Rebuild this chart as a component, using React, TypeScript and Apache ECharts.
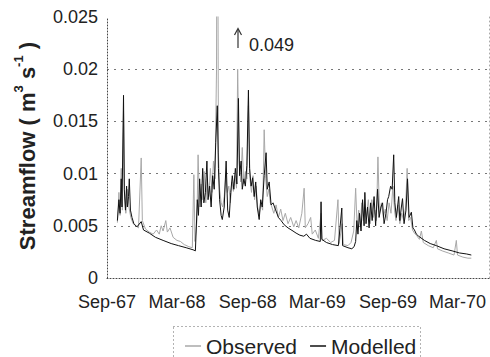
import React, { useEffect, useRef } from "react";
import * as echarts from "echarts";

// x-axis tick positions and labels
const tickDates = ["1967-09-01", "1968-03-01", "1968-09-01", "1969-03-01", "1969-09-01", "1970-03-01"];
const tickLabels = ["Sep-67", "Mar-68", "Sep-68", "Mar-69", "Sep-69", "Mar-70"];
const axisStart = "1967-09-01";
const axisEnd = "1970-05-22";

// y-axis
const yMin = 0;
const yMax = 0.025;
const yStep = 0.005;

// Observed streamflow (m3/s)
const observed: [string, number][] = [
  ["1967-09-28", 0.0053], ["1967-10-02", 0.0082], ["1967-10-05", 0.006], ["1967-10-08", 0.0105],
  ["1967-10-11", 0.0065], ["1967-10-14", 0.016], ["1967-10-17", 0.0078], ["1967-10-20", 0.0062],
  ["1967-10-24", 0.0085], ["1967-10-28", 0.0068], ["1967-11-02", 0.0058], ["1967-11-08", 0.0052],
  ["1967-11-15", 0.005], ["1967-11-22", 0.0048], ["1967-11-29", 0.0115], ["1967-12-02", 0.0055],
  ["1967-12-10", 0.0047], ["1967-12-20", 0.0044], ["1967-12-30", 0.0042], ["1968-01-08", 0.0046],
  ["1968-01-15", 0.0042], ["1968-01-20", 0.005], ["1968-01-25", 0.0045], ["1968-02-01", 0.0055],
  ["1968-02-05", 0.0044], ["1968-02-12", 0.0048], ["1968-02-20", 0.0039], ["1968-03-01", 0.0036],
  ["1968-03-10", 0.0035], ["1968-03-20", 0.0032], ["1968-04-01", 0.003], ["1968-04-10", 0.0029],
  ["1968-04-14", 0.0099], ["1968-04-17", 0.0035], ["1968-04-22", 0.0055], ["1968-04-25", 0.0118],
  ["1968-04-29", 0.0068], ["1968-05-03", 0.009], ["1968-05-07", 0.0075], ["1968-05-11", 0.0102],
  ["1968-05-15", 0.0072], ["1968-05-19", 0.0095], ["1968-05-23", 0.0078], ["1968-05-27", 0.0105],
  ["1968-05-31", 0.0082], ["1968-06-04", 0.0112], ["1968-06-08", 0.0095], ["1968-06-12", 0.02],
  ["1968-06-14", 0.049], ["1968-06-17", 0.012], ["1968-06-20", 0.0085], ["1968-06-24", 0.0072],
  ["1968-06-28", 0.0068], ["1968-07-02", 0.0078], ["1968-07-06", 0.0098], ["1968-07-10", 0.0082],
  ["1968-07-14", 0.0088], ["1968-07-18", 0.0072], ["1968-07-22", 0.0092], ["1968-07-26", 0.0083],
  ["1968-07-30", 0.0098], ["1968-08-03", 0.0086], ["1968-08-06", 0.02], ["1968-08-10", 0.011],
  ["1968-08-14", 0.0092], ["1968-08-18", 0.0125], ["1968-08-22", 0.009], ["1968-08-26", 0.0102],
  ["1968-08-30", 0.0095], ["1968-09-03", 0.0165], ["1968-09-07", 0.0095], ["1968-09-11", 0.0082],
  ["1968-09-15", 0.0098], ["1968-09-19", 0.0075], ["1968-09-23", 0.0088], ["1968-09-27", 0.0068],
  ["1968-10-01", 0.006], ["1968-10-05", 0.0072], ["1968-10-10", 0.0065], ["1968-10-14", 0.0142],
  ["1968-10-18", 0.0095], ["1968-10-22", 0.0078], ["1968-10-26", 0.0085], ["1968-10-30", 0.0072],
  ["1968-11-03", 0.0068], ["1968-11-08", 0.0062], ["1968-11-14", 0.007], ["1968-11-20", 0.0058],
  ["1968-11-26", 0.0066], ["1968-12-02", 0.0055], ["1968-12-08", 0.0062], ["1968-12-15", 0.0052],
  ["1968-12-22", 0.0058], ["1968-12-30", 0.0049], ["1969-01-05", 0.0055], ["1969-01-12", 0.0048],
  ["1969-01-20", 0.0062], ["1969-01-26", 0.0086], ["1969-01-29", 0.0048], ["1969-02-05", 0.0052],
  ["1969-02-12", 0.0058], ["1969-02-16", 0.0042], ["1969-02-24", 0.0046], ["1969-03-04", 0.0038],
  ["1969-03-11", 0.0062], ["1969-03-14", 0.0036], ["1969-03-25", 0.0038], ["1969-04-05", 0.0034],
  ["1969-04-15", 0.0036], ["1969-04-24", 0.0075], ["1969-04-27", 0.0033], ["1969-05-05", 0.0052],
  ["1969-05-08", 0.0032], ["1969-05-20", 0.0031], ["1969-05-28", 0.0034], ["1969-06-04", 0.0045],
  ["1969-06-09", 0.0086], ["1969-06-13", 0.0048], ["1969-06-17", 0.0065], ["1969-06-21", 0.005],
  ["1969-06-25", 0.0072], ["1969-06-29", 0.0055], ["1969-07-03", 0.0068], ["1969-07-07", 0.0058],
  ["1969-07-12", 0.0075], ["1969-07-17", 0.0052], ["1969-07-21", 0.0075], ["1969-07-25", 0.0058],
  ["1969-07-29", 0.0065], ["1969-08-02", 0.0055], ["1969-08-06", 0.0116], ["1969-08-10", 0.0062],
  ["1969-08-15", 0.0072], ["1969-08-20", 0.0058], ["1969-08-25", 0.0066], ["1969-08-30", 0.0055],
  ["1969-09-04", 0.0072], ["1969-09-09", 0.0062], ["1969-09-14", 0.0088], ["1969-09-18", 0.0065],
  ["1969-09-22", 0.0055], ["1969-09-27", 0.007], ["1969-10-02", 0.0052], ["1969-10-07", 0.0062],
  ["1969-10-12", 0.0055], ["1969-10-17", 0.0068], ["1969-10-21", 0.0105], ["1969-10-25", 0.0055],
  ["1969-10-30", 0.0058], ["1969-11-04", 0.0046], ["1969-11-09", 0.0043], ["1969-11-14", 0.0041],
  ["1969-11-22", 0.0037], ["1969-11-27", 0.0045], ["1969-12-02", 0.0034], ["1969-12-15", 0.0031],
  ["1969-12-28", 0.0029], ["1970-01-05", 0.0036], ["1970-01-08", 0.0028], ["1970-01-20", 0.0026],
  ["1970-02-05", 0.0024], ["1970-02-20", 0.0022], ["1970-02-26", 0.0036], ["1970-03-01", 0.0022],
  ["1970-03-15", 0.002], ["1970-03-28", 0.0019], ["1970-04-06", 0.0019],
];

// Modelled streamflow (m3/s)
const modelled: [string, number][] = [
  ["1967-09-28", 0.0055], ["1967-10-02", 0.0075], ["1967-10-05", 0.0062], ["1967-10-08", 0.0095],
  ["1967-10-10", 0.0068], ["1967-10-14", 0.0175], ["1967-10-16", 0.0085], ["1967-10-19", 0.0065],
  ["1967-10-22", 0.0088], ["1967-10-24", 0.0068], ["1967-10-27", 0.0078], ["1967-10-29", 0.0095],
  ["1967-11-01", 0.0065], ["1967-11-05", 0.0058], ["1967-11-10", 0.0052], ["1967-11-18", 0.0049],
  ["1967-11-29", 0.0054], ["1967-12-05", 0.0046], ["1967-12-20", 0.0043], ["1968-01-05", 0.0039],
  ["1968-01-25", 0.0036], ["1968-02-15", 0.0033], ["1968-03-05", 0.0031], ["1968-03-25", 0.0029],
  ["1968-04-12", 0.0027], ["1968-04-18", 0.0026], ["1968-04-20", 0.0045], ["1968-04-23", 0.0075],
  ["1968-04-26", 0.006], ["1968-04-29", 0.0095], ["1968-05-03", 0.0068], ["1968-05-07", 0.0105],
  ["1968-05-10", 0.0072], ["1968-05-14", 0.0082], ["1968-05-18", 0.0112], ["1968-05-21", 0.0075],
  ["1968-05-25", 0.0088], ["1968-05-29", 0.0068], ["1968-06-02", 0.0098], ["1968-06-06", 0.0085],
  ["1968-06-10", 0.013], ["1968-06-14", 0.0165], ["1968-06-17", 0.0105], ["1968-06-20", 0.0075],
  ["1968-06-24", 0.006], ["1968-06-27", 0.0056], ["1968-07-02", 0.0068], ["1968-07-07", 0.0112],
  ["1968-07-11", 0.0065], ["1968-07-15", 0.0058], ["1968-07-19", 0.0082], ["1968-07-23", 0.0098],
  ["1968-07-27", 0.0085], ["1968-07-31", 0.0105], ["1968-08-04", 0.009], ["1968-08-08", 0.0172],
  ["1968-08-11", 0.0098], ["1968-08-15", 0.0112], ["1968-08-18", 0.0085], ["1968-08-22", 0.0095],
  ["1968-08-26", 0.0088], ["1968-08-30", 0.0108], ["1968-09-03", 0.018], ["1968-09-06", 0.0105],
  ["1968-09-10", 0.0088], ["1968-09-14", 0.0096], ["1968-09-18", 0.0078], ["1968-09-22", 0.0092],
  ["1968-09-26", 0.0068], ["1968-10-01", 0.0056], ["1968-10-05", 0.0075], ["1968-10-09", 0.0068],
  ["1968-10-14", 0.0098], ["1968-10-19", 0.012], ["1968-10-22", 0.0085], ["1968-10-27", 0.0092],
  ["1968-11-01", 0.007], ["1968-11-06", 0.0072], ["1968-11-12", 0.0066], ["1968-11-20", 0.0058],
  ["1968-11-27", 0.0055], ["1968-12-05", 0.0051], ["1968-12-15", 0.0048], ["1968-12-28", 0.0045],
  ["1969-01-05", 0.0043], ["1969-01-15", 0.0041], ["1969-01-25", 0.004], ["1969-02-01", 0.0042],
  ["1969-02-10", 0.0038], ["1969-02-25", 0.0036], ["1969-03-09", 0.0035], ["1969-03-11", 0.0073],
  ["1969-03-13", 0.0037], ["1969-03-25", 0.0034], ["1969-04-10", 0.0032], ["1969-04-25", 0.0031],
  ["1969-05-04", 0.0067], ["1969-05-06", 0.0031], ["1969-05-20", 0.0029], ["1969-05-30", 0.0028],
  ["1969-06-05", 0.003], ["1969-06-09", 0.0035], ["1969-06-12", 0.0055], ["1969-06-15", 0.0042],
  ["1969-06-19", 0.0062], ["1969-06-23", 0.0045], ["1969-06-27", 0.0075], ["1969-07-01", 0.005],
  ["1969-07-03", 0.0082], ["1969-07-06", 0.0052], ["1969-07-10", 0.0068], ["1969-07-14", 0.0048],
  ["1969-07-18", 0.0072], ["1969-07-22", 0.0055], ["1969-07-27", 0.0078], ["1969-07-31", 0.005],
  ["1969-08-05", 0.0085], ["1969-08-09", 0.0058], ["1969-08-14", 0.0068], ["1969-08-18", 0.0072],
  ["1969-08-22", 0.0052], ["1969-08-27", 0.0062], ["1969-08-31", 0.0075], ["1969-09-03", 0.0078],
  ["1969-09-08", 0.0088], ["1969-09-12", 0.0085], ["1969-09-16", 0.0118], ["1969-09-19", 0.0072],
  ["1969-09-23", 0.0058], ["1969-09-29", 0.0078], ["1969-10-02", 0.0055], ["1969-10-06", 0.0068],
  ["1969-10-09", 0.0076], ["1969-10-13", 0.0052], ["1969-10-18", 0.0065], ["1969-10-22", 0.0095],
  ["1969-10-26", 0.0058], ["1969-11-01", 0.0063], ["1969-11-05", 0.0048], ["1969-11-09", 0.0046],
  ["1969-11-14", 0.0042], ["1969-11-20", 0.004], ["1969-12-05", 0.0036], ["1969-12-20", 0.0033],
  ["1970-01-05", 0.0031], ["1970-01-25", 0.0028], ["1970-02-15", 0.0026], ["1970-03-06", 0.0024],
  ["1970-03-25", 0.0023], ["1970-04-06", 0.0022],
];

const seriesNames = ["Observed", "Modelled"];
const annotationText = "0.049";

const FONT = '"Liberation Sans", Arial, Helvetica, sans-serif';
const t = (d: string) => Date.parse(d + "T00:00:00Z");

export default function App() {
  const ref = useRef<HTMLDivElement>(null);

  useEffect(() => {
    if (!ref.current) return;
    const chart = echarts.init(ref.current, undefined, { renderer: "svg" });
    const tickTimes = tickDates.map(t);

    chart.setOption({
      animation: false,
      backgroundColor: "#ffffff",
      grid: { left: 107, right: 1, top: 17, bottom: 79 },
      xAxis: {
        type: "value",
        min: t(axisStart),
        max: t(axisEnd),
        axisLine: { show: true, onZero: false, lineStyle: { color: "#444", type: [1, 2], width: 1 } },
        axisTick: { show: false },
        splitLine: { show: false },
        axisLabel: {
          customValues: tickTimes,
          margin: 15,
          fontSize: 18,
          fontFamily: FONT,
          color: "#222",
          formatter: (v: number) => {
            const i = tickTimes.indexOf(v);
            return i >= 0 ? tickLabels[i] : "";
          },
        },
      },
      yAxis: [
        {
          type: "value",
          min: yMin,
          max: yMax,
          interval: yStep,
          axisLine: { show: true, onZero: false, lineStyle: { color: "#444", type: [1, 2], width: 1 } },
          axisTick: { show: false },
          splitLine: {
            show: true,
            showMaxLine: false,
            showMinLine: false,
            lineStyle: { color: "#777", type: [2, 5], width: 1 },
          },
          axisLabel: {
            margin: 9,
            fontSize: 18,
            fontFamily: FONT,
            color: "#222",
            formatter: (v: number) => (v === 0 ? "0" : String(+v.toFixed(3))),
          },
        },
        {
          type: "value",
          position: "right",
          min: yMin,
          max: yMax,
          interval: yStep,
          axisLine: { show: true, onZero: false, lineStyle: { color: "#aaa", type: [1, 3], width: 1 } },
          axisTick: { show: false },
          axisLabel: { show: false },
          splitLine: { show: false },
        },
      ],
      legend: {
        data: seriesNames,
        left: 180,
        top: 330,
        icon: "rect",
        itemWidth: 16,
        itemHeight: 1.5,
        itemGap: 13,
        selectedMode: false,
        textStyle: { fontSize: 21, lineHeight: 22, fontFamily: FONT, color: "#222" },
      },
      series: [
        {
          name: seriesNames[0],
          type: "line",
          data: observed.map(([d, v]) => [t(d), v]),
          showSymbol: false,
          symbol: "none",
          clip: true,
          lineStyle: { color: "#a8a8a8", width: 1 },
          itemStyle: { color: "#a8a8a8" },
          z: 2,
        },
        {
          name: seriesNames[1],
          type: "line",
          data: modelled.map(([d, v]) => [t(d), v]),
          showSymbol: false,
          symbol: "none",
          clip: true,
          lineStyle: { color: "#111", width: 1 },
          itemStyle: { color: "#111" },
          z: 3,
        },
      ],
      graphic: [
        {
          type: "text",
          x: 25,
          y: 146,
          rotation: Math.PI / 2,
          style: {
            text: "{m|Streamflow ( m}{s|3}{m| s}{s|-1}{m| )}",
            align: "center",
            verticalAlign: "middle",
            rich: {
              m: { fontSize: 22, fontWeight: "bold", fontFamily: FONT, fill: "#222", lineHeight: 26, verticalAlign: "bottom" },
              s: { fontSize: 13, fontWeight: "bold", fontFamily: FONT, fill: "#222", lineHeight: 26, verticalAlign: "top" },
            },
          },
        },
        {
          type: "polyline",
          shape: { points: [[238, 48], [238, 30]] },
          style: { stroke: "#333", lineWidth: 1.2, fill: null },
        },
        {
          type: "polyline",
          shape: { points: [[234.5, 35], [238, 28.5], [241.5, 35]] },
          style: { stroke: "#333", lineWidth: 1.2, fill: null },
        },
        {
          type: "text",
          x: 249,
          y: 45,
          style: {
            text: annotationText,
            fontSize: 18,
            fontFamily: FONT,
            fill: "#222",
            verticalAlign: "middle",
          },
        },
        {
          type: "rect",
          shape: { x: 173.5, y: 326.5, width: 247, height: 40 },
          style: { stroke: "#666", lineWidth: 1, lineDash: [1, 3], fill: null },
        },
      ],
    });

    return () => chart.dispose();
  }, []);

  return (
    <div
      ref={ref}
      style={{ position: "absolute", left: 0, top: 0, width: 490, height: 357, background: "#fff" }}
    />
  );
}
